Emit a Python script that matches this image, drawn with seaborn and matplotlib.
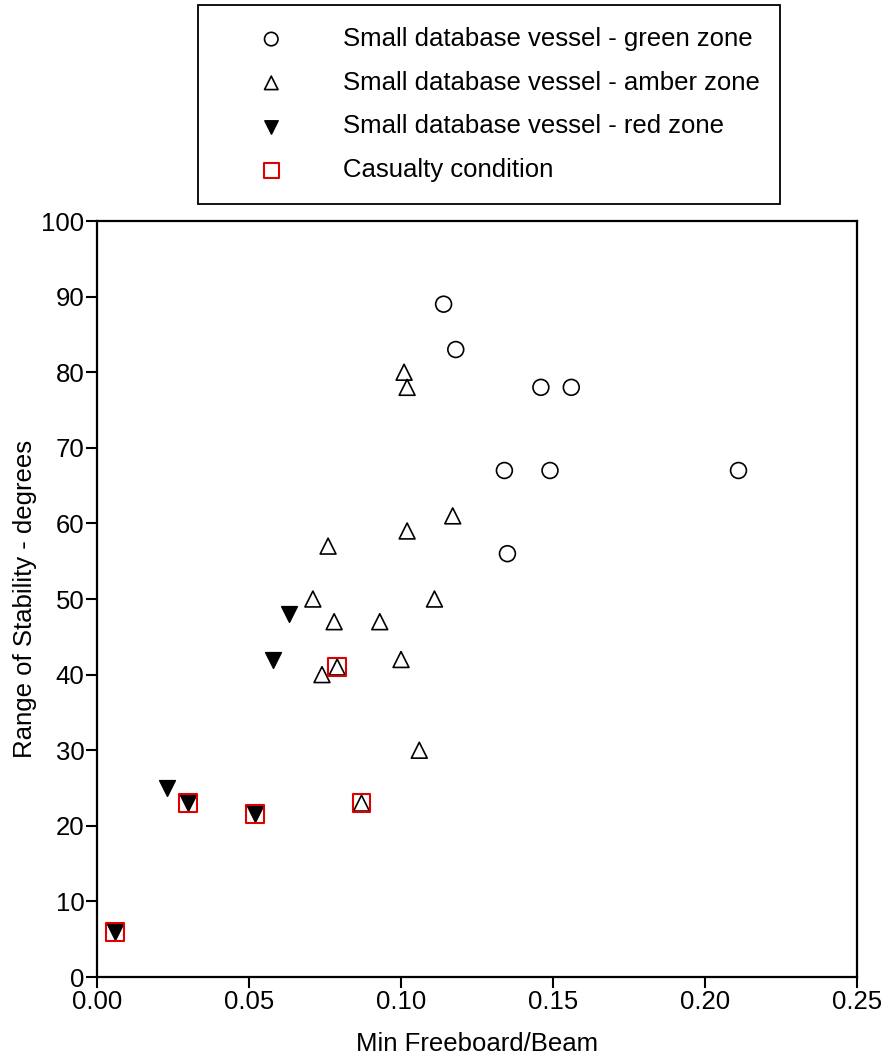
import matplotlib
matplotlib.use("Agg")
import matplotlib.pyplot as plt
import seaborn as sns
import pandas as pd
from matplotlib.ticker import FormatStrFormatter

# Min freeboard / beam versus range of stability
green_x = [0.114, 0.118, 0.146, 0.156, 0.134, 0.149, 0.135, 0.211]
green_y = [89, 83, 78, 78, 67, 67, 56, 67]
amber_x = [0.101, 0.102, 0.117, 0.102, 0.076, 0.071, 0.078, 0.093, 0.111,
           0.100, 0.074, 0.079, 0.106, 0.087]
amber_y = [80, 78, 61, 59, 57, 50, 47, 47, 50, 42, 40, 41, 30, 23]
red_x = [0.006, 0.023, 0.030, 0.052, 0.058, 0.063]
red_y = [6, 25, 23, 21.6, 42, 48]
casualty_x = [0.006, 0.030, 0.052, 0.079, 0.087]
casualty_y = [6, 23, 21.6, 41, 23]

labels = ["Small database vessel - green zone",
          "Small database vessel - amber zone",
          "Small database vessel - red zone",
          "Casualty condition"]
x_ticks = [0.00, 0.05, 0.10, 0.15, 0.20, 0.25]
y_ticks = list(range(0, 101, 10))

sns.set_style("ticks")
plt.rcParams["font.family"] = ["Liberation Sans", "DejaVu Sans"]
plt.rcParams["text.color"] = "black"
plt.rcParams["axes.labelcolor"] = "black"
plt.rcParams["xtick.color"] = "black"
plt.rcParams["ytick.color"] = "black"

FS = 18.5

fig = plt.figure(figsize=(8.9, 10.59), dpi=100)
ax = fig.add_axes([0.109, 0.0774, 0.854, 0.7139])

ms = 130
sns.scatterplot(data=pd.DataFrame({"x": green_x, "y": green_y}), x="x", y="y",
                marker="o", s=ms, facecolor="none", edgecolor="black",
                linewidth=1.2, ax=ax, label=labels[0], zorder=3)
sns.scatterplot(data=pd.DataFrame({"x": amber_x, "y": amber_y}), x="x", y="y",
                marker="^", s=ms, facecolor="none", edgecolor="black",
                linewidth=1.2, ax=ax, label=labels[1], zorder=3)
sns.scatterplot(data=pd.DataFrame({"x": red_x, "y": red_y}), x="x", y="y",
                marker="v", s=ms, color="black", edgecolor="black",
                linewidth=1.0, ax=ax, label=labels[2], zorder=3)
sns.scatterplot(data=pd.DataFrame({"x": casualty_x, "y": casualty_y}), x="x", y="y",
                marker="s", s=ms * 1.25, facecolor="none", edgecolor="#e00000",
                linewidth=1.5, ax=ax, label=labels[3], zorder=4)

ax.set_xlim(0, 0.25)
ax.set_ylim(0, 100)
ax.set_xticks(x_ticks)
ax.set_yticks(y_ticks)
ax.xaxis.set_major_formatter(FormatStrFormatter("%.2f"))
ax.tick_params(axis="both", labelsize=FS, length=8, width=1.5, color="black",
               pad=1, labelcolor="black")
for sp in ax.spines.values():
    sp.set_linewidth(1.6)
    sp.set_color("black")
    sp.set_visible(True)
ax.set_xlabel("Min Freeboard/Beam", fontsize=FS, labelpad=13)
ax.set_ylabel("Range of Stability - degrees", fontsize=FS, labelpad=3)

handles, lbls = ax.get_legend_handles_labels()
ax.get_legend().remove()
leg = fig.legend(handles, lbls, loc="upper left",
                 bbox_to_anchor=(0.2225, 0.9953, 0.6539, 0.0), mode="expand",
                 borderaxespad=0, fontsize=FS, frameon=True, fancybox=False,
                 edgecolor="black", framealpha=1, handlelength=4.0,
                 handletextpad=0.79, borderpad=0.85, labelspacing=0.77,
                 markerscale=0.85)
leg.get_frame().set_linewidth(1.3)

fig.savefig("out.png", dpi=100)
